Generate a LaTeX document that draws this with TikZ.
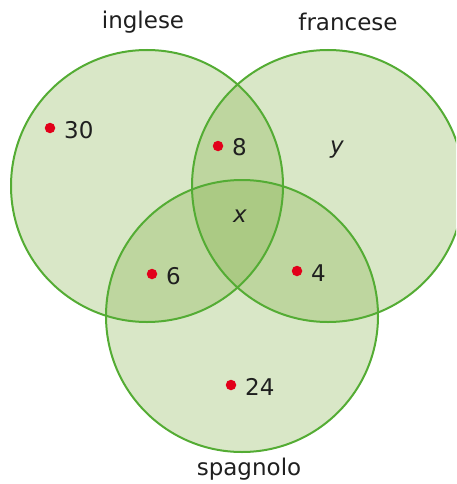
\documentclass[tikz,border=0pt]{standalone}
\usepackage{fontspec}
\setmainfont{DejaVu Sans}
\definecolor{vfill}{RGB}{128,175,68}
\definecolor{vline}{RGB}{84,172,52}
\definecolor{vdot}{RGB}{226,0,26}
\begin{document}
\begin{tikzpicture}[x=1pt,y=-1pt,
  lbl/.style={font=\fontsize{23}{26}\selectfont,text=black!88,inner sep=0pt},
  num/.style={font=\fontsize{23}{26}\selectfont,text=black!88,anchor=west,inner sep=0pt},
  reddot/.style={circle,fill=vdot,inner sep=0pt,minimum size=10.5pt}]
\useasboundingbox (0,0) rectangle (456,484);
\begin{scope}
\clip (0,0) rectangle (456,484);
\fill[vfill,opacity=0.3] (147,186) circle (136);
\fill[vfill,opacity=0.3] (328,186) circle (136);
\fill[vfill,opacity=0.3] (242,316) circle (136);
\draw[vline,line width=2pt] (147,186) circle (136);
\draw[vline,line width=2pt] (328,186) circle (136);
\draw[vline,line width=2pt] (242,316) circle (136);
\end{scope}
\node[lbl] (ing) at (143,22) {inglese};
\node[lbl] (fra) at (348,22) {francese};
\node[lbl] (spa) at (249,469) {spagnolo};
\node[reddot] (d1) at (50,128) {};
\node[num] (n1) at (64,130) {30};
\node[reddot] (d2) at (218,146) {};
\node[num] (n2) at (232,147) {8};
\node[reddot] (d3) at (152,274) {};
\node[num] (n3) at (166,276) {6};
\node[reddot] (d4) at (297,271) {};
\node[num] (n4) at (311,273) {4};
\node[reddot] (d5) at (231,385) {};
\node[num] (n5) at (245,387) {24};
\node[lbl] (x) at (240,216) {\itshape x};
\node[lbl] (y) at (337,150) {\itshape y};
\end{tikzpicture}
\end{document}
